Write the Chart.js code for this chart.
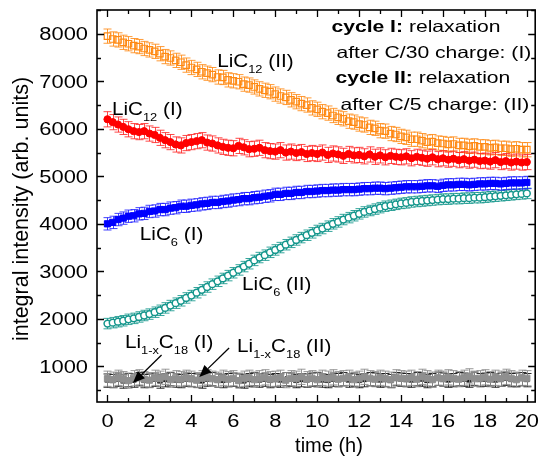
<!DOCTYPE html>
<html>
<head>
<meta charset="utf-8">
<script src="https://cdn.jsdelivr.net/npm/chart.js@4.4.1/dist/chart.umd.min.js"></script>
<style>
  html, body { margin: 0; padding: 0; background: #fff; }
  canvas { display: block; }
</style>
</head>
<body>
<canvas id="chart-intensity" width="541" height="456"></canvas>
<script>
// time axis (h)
var times = [
  0, 0.25, 0.5, 0.75, 1, 1.25, 1.5, 1.75,
  2, 2.25, 2.5, 2.75, 3, 3.25, 3.5, 3.75,
  4, 4.25, 4.5, 4.75, 5, 5.25, 5.5, 5.75,
  6, 6.25, 6.5, 6.75, 7, 7.25, 7.5, 7.75,
  8, 8.25, 8.5, 8.75, 9, 9.25, 9.5, 9.75,
  10, 10.25, 10.5, 10.75, 11, 11.25, 11.5, 11.75,
  12, 12.25, 12.5, 12.75, 13, 13.25, 13.5, 13.75,
  14, 14.25, 14.5, 14.75, 15, 15.25, 15.5, 15.75,
  16, 16.25, 16.5, 16.75, 17, 17.25, 17.5, 17.75,
  18, 18.25, 18.5, 18.75, 19, 19.25, 19.5, 19.75,
  20
];

// LiC12 (II) - orange open squares
var lic12Two = [
  7950, 7890, 7870, 7820, 7790, 7750, 7730, 7690,
  7660, 7630, 7580, 7520, 7490, 7440, 7400, 7340,
  7290, 7250, 7200, 7170, 7140, 7090, 7080, 7030,
  7010, 6990, 6940, 6920, 6880, 6840, 6810, 6780,
  6730, 6690, 6660, 6610, 6570, 6530, 6500, 6440,
  6410, 6360, 6330, 6280, 6240, 6210, 6160, 6140,
  6100, 6080, 6030, 6010, 5960, 5950, 5900, 5880,
  5840, 5820, 5780, 5780, 5750, 5720, 5730, 5700,
  5690, 5670, 5680, 5650, 5650, 5630, 5640, 5620,
  5620, 5600, 5610, 5590, 5590, 5570, 5580, 5560,
  5560
];

// LiC12 (I) - red filled circles
var lic12One = [
  6200, 6140, 6090, 6040, 5990, 5950, 5930, 5950,
  5900, 5870, 5810, 5760, 5720, 5670, 5650, 5700,
  5720, 5740, 5760, 5710, 5690, 5650, 5620, 5600,
  5590, 5640, 5610, 5570, 5580, 5600, 5550, 5530,
  5520, 5550, 5500, 5520, 5490, 5510, 5470, 5490,
  5470, 5500, 5450, 5480, 5460, 5430, 5470, 5440,
  5450, 5420, 5460, 5410, 5440, 5400, 5430, 5410,
  5400, 5420, 5380, 5410, 5390, 5370, 5400, 5360,
  5380, 5350, 5370, 5340, 5360, 5330, 5350, 5320,
  5330, 5310, 5340, 5300, 5320, 5290, 5310, 5290,
  5300
];

// LiC6 (I) - blue filled squares
var lic6One = [
  4000, 4030, 4090, 4120, 4160, 4170, 4210, 4220,
  4260, 4270, 4300, 4300, 4330, 4340, 4370, 4370,
  4390, 4400, 4420, 4430, 4450, 4450, 4470, 4480,
  4500, 4510, 4530, 4530, 4550, 4560, 4580, 4590,
  4620, 4620, 4640, 4640, 4660, 4660, 4680, 4680,
  4690, 4700, 4700, 4710, 4710, 4720, 4720, 4720,
  4730, 4740, 4740, 4750, 4750, 4740, 4750, 4760,
  4770, 4780, 4780, 4780, 4790, 4800, 4800, 4790,
  4810, 4820, 4820, 4830, 4830, 4820, 4830, 4840,
  4840, 4850, 4850, 4840, 4850, 4860, 4860, 4860,
  4870
];

// LiC6 (II) - teal open circles
var lic6Two = [
  1900, 1920, 1940, 1960, 1990, 2010, 2040, 2070,
  2100, 2140, 2180, 2230, 2280, 2330, 2380, 2440,
  2490, 2550, 2610, 2670, 2730, 2790, 2850, 2910,
  2970, 3030, 3100, 3160, 3230, 3290, 3340, 3400,
  3450, 3500, 3560, 3610, 3660, 3710, 3760, 3810,
  3860, 3900, 3950, 4000, 4040, 4090, 4130, 4170,
  4210, 4250, 4280, 4310, 4340, 4370, 4390, 4410,
  4430, 4440, 4460, 4470, 4480, 4490, 4500, 4510,
  4520, 4520, 4530, 4530, 4540, 4540, 4550, 4550,
  4560, 4570, 4580, 4590, 4600, 4610, 4620, 4630,
  4640
];

// Li1-xC18 (II) - gray
var lic18Two = [
  740, 720, 760, 730, 700, 750, 770, 730,
  710, 760, 740, 780, 720, 750, 730, 760,
  740, 710, 750, 770, 740, 720, 760, 730,
  750, 700, 740, 760, 720, 750, 770, 730,
  740, 760, 710, 750, 740, 780, 730, 750,
  720, 760, 740, 770, 730, 750, 760, 720,
  740, 780, 750, 730, 760, 740, 720, 770,
  750, 740, 760, 730, 780, 750, 720, 760,
  740, 770, 750, 730, 760, 790, 740, 750,
  770, 730, 760, 740, 780, 750, 720, 760,
  750
];

// Li1-xC18 (I) - black
var lic18One = [
  700, 690, 720, 680, 710, 700, 730, 690,
  700, 720, 680, 710, 730, 700, 690, 720,
  710, 700, 680, 720, 730, 700, 690, 710,
  720, 700, 680, 710, 730, 700, 720, 690,
  710, 700, 730, 720, 690, 710, 700, 720,
  730, 700, 690, 720, 710, 730, 700, 720,
  690, 710, 730, 720, 700, 710, 690, 730,
  720, 710, 700, 730, 720, 690, 710, 740,
  720, 700, 710, 730, 720, 700, 740, 710,
  720, 730, 700, 720, 740, 710, 720, 730,
  710
];

// error bar half-heights per series
var errLic12Two = 150;
var errLic12One = 160;
var errLic6One = 130;
var errLic6Two = 110;
var errLic18Two = 160;
var errLic18One = 140;

var xTickLabels = [0, 2, 4, 6, 8, 10, 12, 14, 16, 18, 20];
var yTickLabels = [1000, 2000, 3000, 4000, 5000, 6000, 7000, 8000];


var FONT = '"Liberation Sans", Arial, Helvetica, sans-serif';

function pts(arr) {
  return times.map(function (t, i) { return { x: t, y: arr[i] }; });
}

// draws a run of text pieces, stretched sideways like the original
function drawRich(ctx, parts, x, y, size, stretch, align) {
  ctx.save();
  var w = 0;
  parts.forEach(function (p) {
    var fs = p.sub ? size * 0.62 : size;
    ctx.font = (p.bold ? 'bold ' : '') + fs + 'px ' + FONT;
    w += ctx.measureText(p.t).width;
  });
  ctx.translate(x, y);
  ctx.scale(stretch, 1);
  var cx = 0;
  if (align === 'center') cx = -w / 2;
  if (align === 'right') cx = -w;
  ctx.fillStyle = '#000';
  ctx.textBaseline = 'alphabetic';
  ctx.textAlign = 'left';
  parts.forEach(function (p) {
    var fs = p.sub ? size * 0.62 : size;
    ctx.font = (p.bold ? 'bold ' : '') + fs + 'px ' + FONT;
    ctx.fillText(p.t, cx, p.sub ? size * 0.3 : 0);
    cx += ctx.measureText(p.t).width;
  });
  ctx.restore();
}

function arrow(ctx, x1, y1, x2, y2) {
  var a = Math.atan2(y2 - y1, x2 - x1);
  var len = 12, half = 5;
  var bx = x2 - len * Math.cos(a), by = y2 - len * Math.sin(a);
  ctx.save();
  ctx.strokeStyle = '#000';
  ctx.fillStyle = '#000';
  ctx.lineWidth = 1.3;
  ctx.beginPath();
  ctx.moveTo(x1, y1);
  ctx.lineTo(bx, by);
  ctx.stroke();
  ctx.beginPath();
  ctx.moveTo(x2, y2);
  ctx.lineTo(bx + half * Math.sin(a), by - half * Math.cos(a));
  ctx.lineTo(bx - half * Math.sin(a), by + half * Math.cos(a));
  ctx.closePath();
  ctx.fill();
  ctx.restore();
}

var errorBars = {
  id: 'errorBars',
  beforeDatasetDraw: function (chart, args) {
    var ds = chart.data.datasets[args.index];
    var meta = args.meta;
    var y = chart.scales.y;
    var ctx = chart.ctx;
    ctx.save();
    ctx.strokeStyle = ds.errColor;
    ctx.lineWidth = 1;
    meta.data.forEach(function (el, i) {
      var v = ds.data[i].y;
      var px = Math.round(el.x) + 0.5;
      var top = y.getPixelForValue(v + ds.err);
      var bot = y.getPixelForValue(v - ds.err);
      ctx.beginPath();
      ctx.moveTo(px, top);
      ctx.lineTo(px, bot);
      ctx.moveTo(px - 4, top);
      ctx.lineTo(px + 4, top);
      ctx.moveTo(px - 4, bot);
      ctx.lineTo(px + 4, bot);
      ctx.stroke();
    });
    ctx.restore();
  }
};

var frameAndText = {
  id: 'frameAndText',
  afterDraw: function (chart) {
    var ctx = chart.ctx;
    var a = chart.chartArea;
    var xs = chart.scales.x, ys = chart.scales.y;
    var X = function (v) { return xs.getPixelForValue(v); };
    var Y = function (v) { return ys.getPixelForValue(v); };

    ctx.save();
    ctx.strokeStyle = '#000';
    ctx.lineWidth = 1.6;
    ctx.strokeRect(a.left, a.top, a.right - a.left, a.bottom - a.top);

    // inward ticks on all four sides
    ctx.lineWidth = 1.3;
    ctx.beginPath();
    for (var t = 0; t <= 20; t++) {
      var px = Math.round(X(t)) + 0.5;
      var l = t % 2 === 0 ? 7 : 4;
      ctx.moveTo(px, a.bottom); ctx.lineTo(px, a.bottom - l);
      ctx.moveTo(px, a.top); ctx.lineTo(px, a.top + l);
    }
    for (var v = 500; v <= 8500; v += 500) {
      var py = Math.round(Y(v)) + 0.5;
      var lv = v % 1000 === 0 ? 7 : 4;
      ctx.moveTo(a.left, py); ctx.lineTo(a.left + lv, py);
      ctx.moveTo(a.right, py); ctx.lineTo(a.right - lv, py);
    }
    ctx.stroke();
    ctx.restore();

    // tick labels
    xTickLabels.forEach(function (t) {
      drawRich(ctx, [{ t: String(t) }], X(t), a.bottom + 25, 17.5, 1.25, 'center');
    });
    yTickLabels.forEach(function (v) {
      drawRich(ctx, [{ t: String(v) }], a.left - 9, Y(v) + 6.3, 17.5, 1.25, 'right');
    });

    // axis titles
    ctx.save();
    ctx.fillStyle = '#000';
    ctx.font = '20px ' + FONT;
    ctx.textAlign = 'center';
    ctx.textBaseline = 'alphabetic';
    ctx.fillText('time (h)', 329, 452);
    ctx.translate(28, 209);
    ctx.rotate(-Math.PI / 2);
    ctx.font = '21.5px ' + FONT;
    ctx.fillText('integral intensity (arb. units)', 0, 0);
    ctx.restore();

    // series labels
    var S = 18.5, K = 1.12;
    drawRich(ctx, [{ t: 'LiC' }, { t: '12', sub: true }, { t: ' (II)' }], X(5.23), Y(7299), S, K);
    drawRich(ctx, [{ t: 'LiC' }, { t: '12', sub: true }, { t: ' (I)' }], X(0.21), Y(6289), S, K);
    drawRich(ctx, [{ t: 'LiC' }, { t: '6', sub: true }, { t: ' (I)' }], X(1.54), Y(3659), S, K);
    drawRich(ctx, [{ t: 'LiC' }, { t: '6', sub: true }, { t: ' (II)' }], X(6.42), Y(2607), S, K);
    drawRich(ctx, [{ t: 'Li' }, { t: '1-x', sub: true }, { t: 'C' }, { t: '18', sub: true }, { t: ' (I)' }], X(0.83), Y(1386), S, K);
    drawRich(ctx, [{ t: 'Li' }, { t: '1-x', sub: true }, { t: 'C' }, { t: '18', sub: true }, { t: ' (II)' }], X(6.18), Y(1302), S, K);

    arrow(ctx, X(2.58), Y(1239), X(1.21), Y(649));
    arrow(ctx, X(5.80), Y(1386), X(4.38), Y(776));

    // cycle notes, top right
    var N = 16.5, KN = 1.28;
    drawRich(ctx, [{ t: 'cycle I:', bold: true }, { t: ' relaxation' }], X(10.68), Y(8036), N, KN);
    drawRich(ctx, [{ t: 'after C/30 charge: (I)' }], X(10.92), Y(7489), N, KN);
    drawRich(ctx, [{ t: 'cycle II:', bold: true }, { t: ' relaxation' }], X(10.87), Y(6963), N, KN);
    drawRich(ctx, [{ t: 'after C/5 charge: (II)' }], X(11.11), Y(6394), N, KN);
  }
};

var ORANGE = '#ff8a14', RED = '#ff0000', BLUE = '#0000ff', TEAL = '#14968c', GRAY = '#8f8f8f', BLACK = '#1a1a1a';

var datasets = [
  { label: 'LiC12 (I)', data: pts(lic12One), err: errLic12One, errColor: 'rgba(255,40,40,0.85)',
    pointStyle: 'circle', pointRadius: 3.6, backgroundColor: RED, borderColor: RED, borderWidth: 1 },
  { label: 'LiC6 (I)', data: pts(lic6One), err: errLic6One, errColor: 'rgba(30,30,255,0.85)',
    pointStyle: 'rect', pointRadius: 4.4, backgroundColor: BLUE, borderColor: BLUE, borderWidth: 1 },
  { label: 'LiC12 (II)', data: pts(lic12Two), err: errLic12Two, errColor: 'rgba(255,138,20,0.85)',
    pointStyle: 'rect', pointRadius: 4.6, backgroundColor: 'rgba(255,255,255,0)', borderColor: ORANGE, borderWidth: 1.2 },
  { label: 'LiC6 (II)', data: pts(lic6Two), err: errLic6Two, errColor: 'rgba(20,150,140,0.85)',
    pointStyle: 'circle', pointRadius: 3.4, backgroundColor: '#fff', borderColor: TEAL, borderWidth: 1.5 },
  { label: 'Li1-xC18 (II)', data: pts(lic18Two), err: errLic18Two, errColor: 'rgba(140,140,140,0.9)',
    pointStyle: 'rect', pointRadius: 4.4, backgroundColor: GRAY, borderColor: GRAY, borderWidth: 1 },
  { label: 'Li1-xC18 (I)', data: pts(lic18One), err: errLic18One, errColor: 'rgba(20,20,20,0.9)',
    pointStyle: 'triangle', pointRadius: 3, backgroundColor: BLACK, borderColor: BLACK, borderWidth: 1 }
];

new Chart('chart-intensity', {
  type: 'scatter',
  data: { datasets: datasets },
  plugins: [errorBars, frameAndText],
  options: {
    responsive: false,
    animation: false,
    devicePixelRatio: 1,
    layout: { padding: { left: 0, right: 3, top: 10, bottom: 0 } },
    plugins: {
      legend: { display: false },
      tooltip: { enabled: false },
    },
    scales: {
      x: {
        type: 'linear',
        min: -0.5,
        max: 20.4,
        grid: { display: false, drawTicks: false },
        border: { display: false },
        ticks: { display: false },
        afterFit: function (s) { s.height = 54; },
      },
      y: {
        type: 'linear',
        min: 250,
        max: 8500,
        grid: { display: false, drawTicks: false },
        border: { display: false },
        ticks: { display: false },
        afterFit: function (s) { s.width = 97; },
      },
    },
  },
});
</script>
</body>
</html>
